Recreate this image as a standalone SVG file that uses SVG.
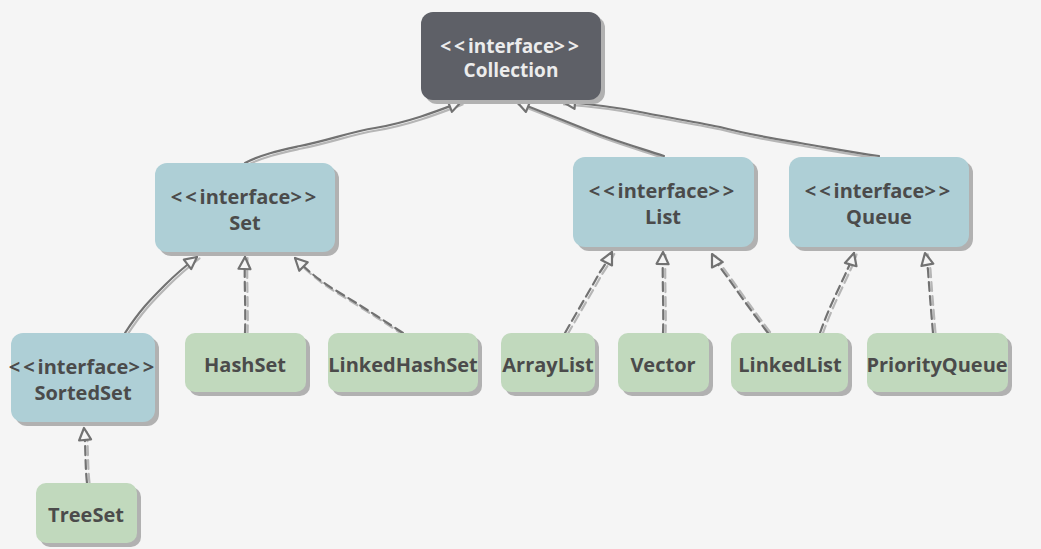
<svg xmlns="http://www.w3.org/2000/svg" xmlns:xlink="http://www.w3.org/1999/xlink" width="1041" height="549" viewBox="0 0 1041 549">
<style>
.bg{fill:#f5f5f5}
.shadow{fill:#b1b1b1}
.root{fill:#5e6067}
.iface{fill:#aecfd6}
.cls{fill:#c1d9bd}
text{font-family:"Open Sans","Noto Sans","DejaVu Sans",sans-serif;font-weight:700;font-size:20px;text-anchor:middle;fill:#4b4b4b}
.rt{fill:#ececec;font-size:19px}
.ls{letter-spacing:3px}
.ln{fill:none;stroke:#727272;stroke-width:2.2;stroke-linecap:round;stroke-linejoin:round}
.sh{fill:none;stroke:#b6b6b6;stroke-width:2.2;stroke-linecap:round;stroke-linejoin:round}
.dash{stroke-dasharray:9 5}
</style>
<defs>
<marker id="tri" markerUnits="userSpaceOnUse" viewBox="0 0 16 16" markerWidth="16" markerHeight="16" refX="14" refY="8" orient="auto">
<path d="M2,2 L14,8 L2,14 z" fill="#f5f5f5" stroke="#727272" stroke-width="2.2" stroke-linejoin="round"/>
</marker>
<path id="p1" d="M245,163 C262,154 282,150 300,146 C330,140 350,132 375,128 C410,122 440,110 461,102"/>
<path id="p2" d="M664,156 C640,148 615,141 590,131 C565,121 545,113 517,102"/>
<path id="p3" d="M879,156 C850,152 830,148 800,143 C770,138 750,135 720,127 C690,121 660,116 640,112 C610,106 590,104 563,102"/>
<path id="p4" d="M125,333 C140,310 150,300 165,285 C178,272 188,264 197,257"/>
<path id="p5" d="M245,333 C246,310 244,280 245,257"/>
<path id="p6" d="M403,333 C380,318 360,305 335,290 C318,280 305,268 295,258"/>
<path id="p7" d="M565,333 C578,310 590,290 600,272 C605,265 609,258 612,252"/>
<path id="p8" d="M663,333 C664,310 662,280 663,252"/>
<path id="p9" d="M768,333 C752,312 740,295 728,278 C722,270 716,262 712,254"/>
<path id="p10" d="M820,333 C828,310 838,290 845,275 C849,266 852,260 854,253"/>
<path id="p11" d="M933,333 C931,310 929,285 928,270 C927,262 926,258 925,253"/>
<path id="p12" d="M87,483 C85,465 86,450 84,428"/>
</defs>
<rect class="bg" x="0" y="0" width="1041" height="549"/>
<g id="connectors">
<use xlink:href="#p1" class="sh" transform="translate(1.5,2.5)"/>
<use xlink:href="#p2" class="sh" transform="translate(1.5,2.5)"/>
<use xlink:href="#p3" class="sh" transform="translate(1,2.5)"/>
<use xlink:href="#p4" class="sh" transform="translate(2.5,1.5)"/>
<use xlink:href="#p5" class="sh dash" transform="translate(2.5,1)"/>
<use xlink:href="#p6" class="sh dash" transform="translate(1.5,2.5)"/>
<use xlink:href="#p7" class="sh dash" transform="translate(2.5,1.5)"/>
<use xlink:href="#p8" class="sh dash" transform="translate(2.5,1)"/>
<use xlink:href="#p9" class="sh dash" transform="translate(2,-1)"/>
<use xlink:href="#p10" class="sh dash" transform="translate(2.5,1.5)"/>
<use xlink:href="#p11" class="sh dash" transform="translate(2.5,0)"/>
<use xlink:href="#p12" class="sh dash" transform="translate(2.5,0)"/>
<use xlink:href="#p1" class="ln" marker-end="url(#tri)"/>
<use xlink:href="#p2" class="ln" marker-end="url(#tri)"/>
<use xlink:href="#p3" class="ln" marker-end="url(#tri)"/>
<use xlink:href="#p4" class="ln" marker-end="url(#tri)"/>
<use xlink:href="#p5" class="ln dash" marker-end="url(#tri)"/>
<use xlink:href="#p6" class="ln dash" marker-end="url(#tri)"/>
<use xlink:href="#p7" class="ln dash" marker-end="url(#tri)"/>
<use xlink:href="#p8" class="ln dash" marker-end="url(#tri)"/>
<use xlink:href="#p9" class="ln dash" marker-end="url(#tri)"/>
<use xlink:href="#p10" class="ln dash" marker-end="url(#tri)"/>
<use xlink:href="#p11" class="ln dash" marker-end="url(#tri)"/>
<use xlink:href="#p12" class="ln dash" marker-end="url(#tri)"/>
</g>
<g id="Collection">
<rect class="shadow" x="425" y="16" width="180" height="88" rx="12"/>
<rect class="root" x="421" y="12" width="180" height="88" rx="12"/>
<text class="rt" x="511" y="53"><tspan class="ls">&lt;&lt;</tspan>interface<tspan class="ls">&gt;&gt;</tspan><tspan x="511" dy="24">Collection</tspan></text>
</g>
<g id="Set">
<rect class="shadow" x="159" y="167" width="180" height="89" rx="12"/>
<rect class="iface" x="155" y="163" width="180" height="89" rx="12"/>
<text x="245" y="204"><tspan class="ls">&lt;&lt;</tspan>interface<tspan class="ls">&gt;&gt;</tspan><tspan x="245" dy="25.5">Set</tspan></text>
</g>
<g id="List">
<rect class="shadow" x="577" y="161" width="181" height="90" rx="12"/>
<rect class="iface" x="573" y="157" width="181" height="90" rx="12"/>
<text x="663" y="198"><tspan class="ls">&lt;&lt;</tspan>interface<tspan class="ls">&gt;&gt;</tspan><tspan x="663" dy="25.5">List</tspan></text>
</g>
<g id="Queue">
<rect class="shadow" x="793" y="161" width="180" height="90" rx="12"/>
<rect class="iface" x="789" y="157" width="180" height="90" rx="12"/>
<text x="879" y="198"><tspan class="ls">&lt;&lt;</tspan>interface<tspan class="ls">&gt;&gt;</tspan><tspan x="879" dy="25.5">Queue</tspan></text>
</g>
<g id="SortedSet">
<rect class="shadow" x="15" y="337" width="144" height="89" rx="12"/>
<rect class="iface" x="11" y="333" width="144" height="89" rx="12"/>
<text x="83" y="374"><tspan class="ls">&lt;&lt;</tspan>interface<tspan class="ls">&gt;&gt;</tspan><tspan x="83" dy="25.5">SortedSet</tspan></text>
</g>
<g id="HashSet">
<rect class="shadow" x="189" y="337" width="121" height="59" rx="10"/>
<rect class="cls" x="185" y="333" width="121" height="59" rx="10"/>
<text x="245" y="372">HashSet</text>
</g>
<g id="LinkedHashSet">
<rect class="shadow" x="332" y="337" width="150" height="59" rx="10"/>
<rect class="cls" x="328" y="333" width="150" height="59" rx="10"/>
<text x="403" y="372">LinkedHashSet</text>
</g>
<g id="ArrayList">
<rect class="shadow" x="505" y="337" width="94" height="59" rx="10"/>
<rect class="cls" x="501" y="333" width="94" height="59" rx="10"/>
<text x="548" y="372">ArrayList</text>
</g>
<g id="Vector">
<rect class="shadow" x="622" y="337" width="91" height="59" rx="10"/>
<rect class="cls" x="618" y="333" width="91" height="59" rx="10"/>
<text x="663" y="372">Vector</text>
</g>
<g id="LinkedList">
<rect class="shadow" x="735" y="337" width="117" height="59" rx="10"/>
<rect class="cls" x="731" y="333" width="117" height="59" rx="10"/>
<text x="790" y="372">LinkedList</text>
</g>
<g id="PriorityQueue">
<rect class="shadow" x="871" y="337" width="141" height="59" rx="10"/>
<rect class="cls" x="867" y="333" width="141" height="59" rx="10"/>
<text x="937" y="372">PriorityQueue</text>
</g>
<g id="TreeSet">
<rect class="shadow" x="40" y="487" width="101" height="60" rx="10"/>
<rect class="cls" x="36" y="483" width="101" height="60" rx="10"/>
<text x="86" y="522">TreeSet</text>
</g>
</svg>
